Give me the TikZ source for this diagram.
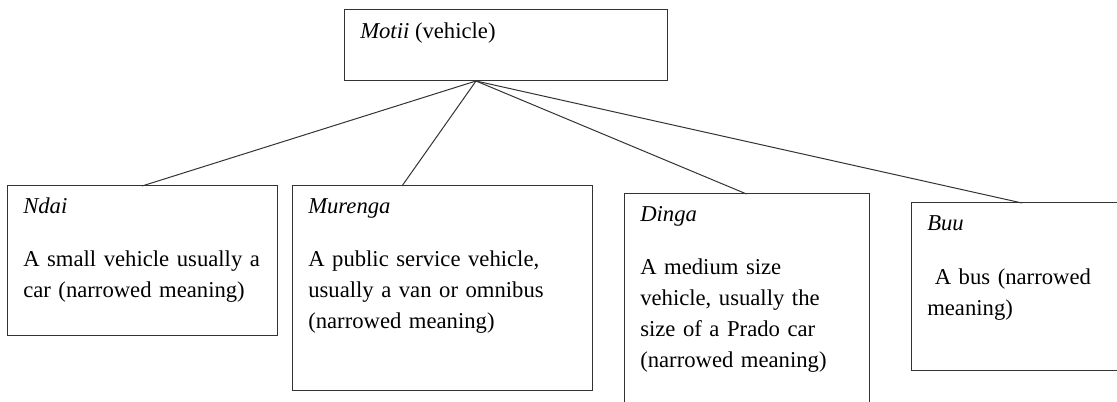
\documentclass[tikz,border=0pt]{standalone}
\usepackage{fontspec}
\setmainfont{Liberation Serif}
\usetikzlibrary{positioning,calc}

\begin{document}
\begin{tikzpicture}[x=0.75pt, y=-0.75pt,
    box/.style={rectangle, draw=black!80, line width=0.75pt, inner sep=0pt, outer sep=0pt, anchor=north west},
    txt/.style={anchor=base west, inner sep=0pt, font=\fontsize{17pt}{23.25pt}\selectfont},
    title/.style={txt, font=\fontsize{17pt}{23.25pt}\selectfont\itshape},
    body/.style={txt, text width=200pt, align=left},
    line/.style={draw=black!80, line width=0.75pt}
]

% Page frame
\useasboundingbox (0,0) rectangle (1117,402);
\clip (0,0) rectangle (1117,402);

% Top box
\node[box, minimum width=323*0.75pt, minimum height=71.5*0.75pt] (motii) at (344,9.5) {};
\node[txt] (motiitxt) at (360,39) {\textit{Motii} (vehicle)};

% Lower boxes
\node[box, minimum width=270*0.75pt, minimum height=150*0.75pt] (ndai) at (7,186) {};
\node[box, minimum width=300*0.75pt, minimum height=205*0.75pt] (murenga) at (292,186) {};
\node[box, minimum width=245*0.75pt, minimum height=240*0.75pt] (dinga) at (624,194) {};
\node[box, minimum width=222*0.75pt, minimum height=168*0.75pt] (buu) at (911,203) {};

% Titles
\node[title] (ndaititle) at (23,214) {Ndai};
\node[title] (murengatitle) at (308,214) {Murenga};
\node[title] (dingatitle) at (640,222) {Dinga};
\node[title] (buutitle) at (927,231) {Buu};

% Meanings
\node[body] (ndaibody) at (23,267) {
    A small vehicle usually a\\
    car (narrowed meaning)
};
\node[body] (murengabody) at (308,267) {
    A public service vehicle,\\
    usually a van or omnibus\\
    (narrowed meaning)
};
\node[body] (dingabody) at (640,275) {
    A medium size\\
    vehicle, usually the\\
    size of a Prado car\\
    (narrowed meaning)
};
\node[body] (buubody) at (927,285) {
    \ A bus (narrowed\\
    meaning)
};

% Branches
\coordinate (apex) at ($(motii.south west)+(132,0)$);
\coordinate (murengatop) at ($(murenga.north west)+(110,0)$);
\draw[line] (apex) -- (ndai.north);
\draw[line] (apex) -- (murengatop);
\draw[line] (apex) -- (dinga.north);
\draw[line] (apex) -- (buu.north);

\end{tikzpicture}
\end{document}
